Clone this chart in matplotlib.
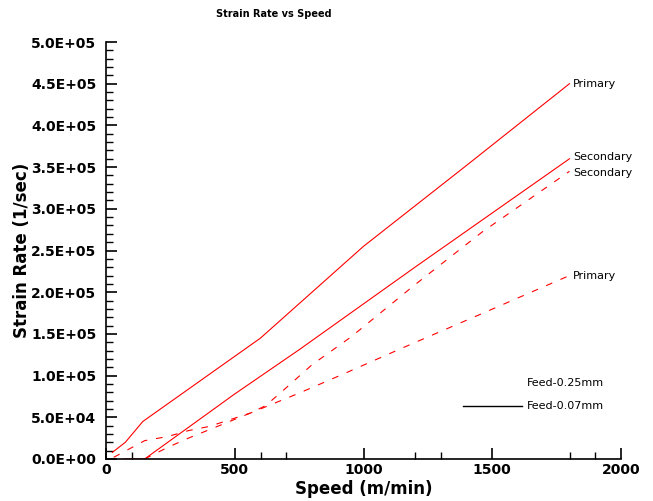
import matplotlib
matplotlib.use("Agg")
import matplotlib.pyplot as plt
from matplotlib.lines import Line2D
from matplotlib.ticker import FixedLocator, FuncFormatter

# Feed 0.07 mm (solid lines)
speed_prim_07 = [25, 75, 143, 600, 1000, 1400, 1800]
rate_prim_07 = [8e3, 20e3, 45e3, 145e3, 255e3, 352e3, 450e3]

speed_sec_07 = [70, 150, 500, 750, 1200, 1800]
rate_sec_07 = [0, 0, 78e3, 131e3, 230e3, 360e3]

# Feed 0.25 mm (dashed lines)
speed_sec_25 = [150, 240, 320, 400, 480, 560, 620, 680, 800, 950, 1200, 1460, 1800]
rate_sec_25 = [0, 14e3, 25e3, 35e3, 45e3, 55e3, 64e3, 80e3, 113e3, 146e3, 209e3, 272e3, 345e3]

speed_prim_25 = [30, 90, 150, 240, 320, 400, 480, 560, 750, 930, 1150, 1450, 1800]
rate_prim_25 = [2e3, 12e3, 22e3, 27e3, 34e3, 39e3, 47e3, 55e3, 79e3, 103e3, 133e3, 173e3, 220e3]

curve_labels = [("Primary", 4.5e5), ("Secondary", 3.62e5), ("Secondary", 3.43e5), ("Primary", 2.2e5)]

x_minor = [100, 600, 700, 1200, 1300, 1800, 1900]

fig = plt.figure(figsize=(6.53, 5.01), dpi=100)
ax = fig.add_axes([106 / 653, 42 / 501, 515 / 653, 417 / 501])

red = "#ff0000"
ax.plot(speed_prim_07, rate_prim_07, color=red, lw=0.8)
ax.plot(speed_sec_07, rate_sec_07, color=red, lw=0.8)
ax.plot(speed_sec_25, rate_sec_25, color=red, lw=0.8, dashes=(6, 8))
ax.plot(speed_prim_25, rate_prim_25, color=red, lw=0.8, dashes=(6, 8))

for name, yv in curve_labels:
    ax.text(1815, yv, name, fontsize=8, va="center", ha="left")

ax.set_xlim(0, 2000)
ax.set_ylim(0, 5e5)
ax.set_xticks([0, 500, 1000, 1500, 2000])
ax.set_yticks([i * 5e4 for i in range(11)])
ax.xaxis.set_minor_locator(FixedLocator(x_minor))
ax.yaxis.set_minor_locator(FixedLocator([i * 1e4 for i in range(51) if i % 5]))
ax.yaxis.set_major_formatter(FuncFormatter(lambda v, p: f"{v:.1E}"))

for s in ["top", "right"]:
    ax.spines[s].set_visible(False)
for s in ["left", "bottom"]:
    ax.spines[s].set_linewidth(1.2)

ax.tick_params(which="major", direction="in", length=8, width=1.2, pad=7,
               labelsize=10)
ax.tick_params(which="minor", direction="in", length=5, width=1.0)
for lab in ax.get_xticklabels() + ax.get_yticklabels():
    lab.set_fontweight("bold")
ax.tick_params(axis="x", pad=3)

ax.set_xlabel("Speed (m/min)", fontsize=12, fontweight="bold", labelpad=2)
ax.set_ylabel("Strain Rate (1/sec)", fontsize=12, fontweight="bold", labelpad=0)
fig.text(274 / 653, 1 - 14 / 501, "Strain Rate vs Speed", fontsize=7,
         fontweight="bold", ha="center", va="center")

handles = [Line2D([], [], color="black", ls="none"),
           Line2D([], [], color="black", lw=1)]
ax.legend(handles, ["Feed-0.25mm", "Feed-0.07mm"], loc="lower right",
          bbox_to_anchor=(0.987, 0.09), frameon=False, fontsize=8,
          handlelength=5.3, handletextpad=0.5, labelspacing=1.2)

fig.savefig("out.png", dpi=100)
